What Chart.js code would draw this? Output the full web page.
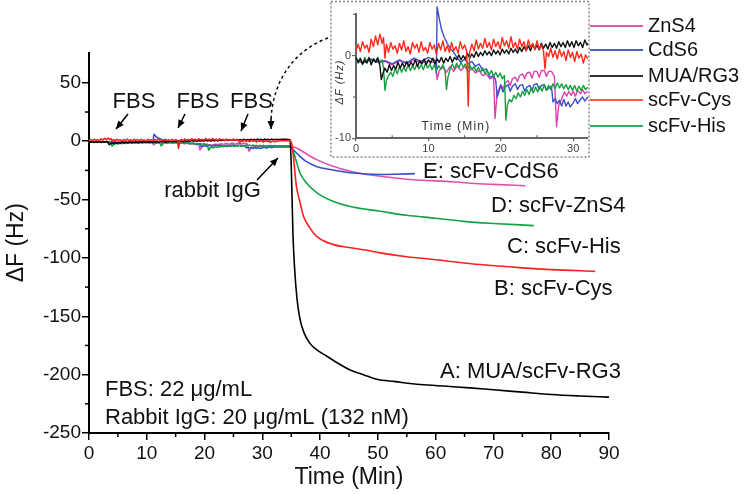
<!DOCTYPE html>
<html><head><meta charset="utf-8">
<script src="https://cdn.jsdelivr.net/npm/chart.js@4.4.1/dist/chart.umd.min.js"></script>
<style>
html,body{margin:0;padding:0;background:#fff;}
#wrap{position:relative;width:750px;height:494px;overflow:hidden;}
#main{position:absolute;left:0;top:0;width:750px;height:494px;}
#inset{position:absolute;left:330px;top:0;width:420px;height:160px;}
</style></head><body>
<div id="wrap"><canvas id="main" width="750" height="494"></canvas><canvas id="inset" width="420" height="160"></canvas></div>
<script>
// ---------- DATA (time in min, ΔF in Hz) ----------
const seriesNames = ['ZnS4','CdS6','MUA/RG3','scFv-Cys','scFv-His'];
const curveLabels = ['A: MUA/scFv-RG3','B: scFv-Cys','C: scFv-His','D: scFv-ZnS4','E: scFv-CdS6'];
const xTicksMain = [0,10,20,30,40,50,60,70,80,90];
const yTicksMain = [50,0,-50,-100,-150,-200,-250];
const xTicksInset = [0,10,20,30];
const yTicksInset = [0,-10];

// baseline (0-32 min) — also shown in the inset
const cysBase = [[0,0.6],[0.3,1.4],[0.6,0.5],[0.9,1.7],[1.2,0.9],[1.5,1.3],[1.8,0.4],[2.1,2.0],[2.4,1.1],[2.7,2.4],[3.0,1.3],[3.3,2.6],[3.6,1.5],[3.8,2.2],[4.0,-0.3],[4.2,1.4],[4.5,0.4],[4.8,1.6],[5.1,0.8],[5.4,1.2],[5.7,0.3],[6.0,1.5],[6.3,0.7],[6.6,1.8],[6.9,0.5],[7.2,1.1],[7.5,0.2],[7.8,1.6],[8.1,0.9],[8.4,1.4],[8.7,0.4],[9.0,1.7],[9.3,0.6],[9.6,1.0],[9.9,0.3],[10.2,1.6],[10.5,0.8],[10.8,1.3],[11.1,0.2],[11.4,1.5],[11.7,0.7],[12.0,1.8],[12.3,0.5],[12.6,1.2],[12.9,0.4],[13.2,1.6],[13.5,0.6],[13.8,1.1],[14.1,0.3],[14.4,1.7],[14.7,0.8],[15.0,1.3],[15.3,0.5],[15.5,-6.1],[15.7,0.4],[16.0,1.4],[16.3,0.6],[16.6,1.9],[16.9,0.8],[17.2,1.5],[17.5,0.9],[17.8,2.1],[18.1,1.0],[18.4,1.6],[18.7,0.7],[19.0,2.0],[19.3,1.1],[19.6,1.7],[19.9,0.8],[20.2,2.2],[20.5,1.2],[20.8,1.8],[21.1,0.9],[21.4,2.3],[21.7,1.0],[22.0,1.6],[22.3,0.8],[22.6,2.0],[22.9,1.1],[23.2,1.7],[23.5,0.6],[23.8,1.9],[24.1,1.0],[24.4,1.5],[24.7,0.7],[25.0,1.8],[25.3,0.8],[25.6,1.3],[25.9,0.5],[26.1,-1.6],[26.3,0.4],[26.6,-0.1],[26.9,0.9],[27.2,-0.2],[27.5,0.6],[27.8,-0.4],[28.1,0.8],[28.4,-0.1],[28.7,0.5],[29.0,-0.6],[29.3,0.7],[29.6,-0.2],[29.9,0.4],[30.2,-0.7],[30.5,0.5],[30.8,-0.3],[31.1,0.2],[31.4,-0.9],[31.7,0.1],[32.0,-0.4]];
const muaBase = [[0,-0.2],[0.3,-0.8],[0.6,-0.3],[0.9,-1.0],[1.2,-0.5],[1.5,-0.9],[1.8,-0.2],[2.1,-1.1],[2.4,-0.4],[2.7,-0.8],[3.0,-0.3],[3.3,-1.2],[3.5,-2.9],[3.7,-2.2],[4.0,-1.5],[4.3,-2.0],[4.6,-1.1],[4.9,-1.8],[5.2,-1.2],[5.5,-1.6],[5.8,-0.8],[6.1,-1.5],[6.4,-0.9],[6.7,-1.4],[7.0,-0.7],[7.3,-1.3],[7.6,-0.8],[7.9,-1.2],[8.2,-0.5],[8.5,-1.3],[8.8,-0.6],[9.1,-1.0],[9.4,-0.4],[9.7,-1.1],[10.0,-0.5],[10.3,-0.9],[10.6,-0.3],[10.9,-1.0],[11.2,-0.4],[11.5,-0.8],[11.8,-0.2],[12.1,-0.9],[12.4,-0.3],[12.7,-0.7],[13.0,-0.1],[13.3,-0.8],[13.6,-0.2],[13.9,-0.5],[14.2,0.1],[14.5,-0.5],[14.8,0.0],[15.1,-0.4],[15.4,0.3],[15.7,-0.3],[16.0,0.2],[16.3,-0.2],[16.6,0.5],[16.9,-0.1],[17.2,0.4],[17.5,0.0],[17.8,0.6],[18.1,0.1],[18.4,0.5],[18.7,0.0],[19.0,0.7],[19.3,0.2],[19.6,0.6],[19.9,0.1],[20.2,0.8],[20.5,0.3],[20.8,0.7],[21.1,0.2],[21.4,0.9],[21.7,0.4],[22.0,0.8],[22.3,0.3],[22.6,1.0],[22.9,0.5],[23.2,1.1],[23.5,0.6],[23.8,1.2],[24.1,0.6],[24.4,1.4],[24.7,0.8],[25.0,1.3],[25.3,0.7],[25.6,1.5],[25.9,0.9],[26.2,1.4],[26.5,0.8],[26.8,1.6],[27.1,1.0],[27.4,1.5],[27.7,0.9],[28.0,1.7],[28.3,1.1],[28.6,1.6],[28.9,1.0],[29.2,1.8],[29.5,1.1],[29.8,1.7],[30.1,1.0],[30.4,1.8],[30.7,1.2],[31.0,1.6],[31.3,1.0],[31.6,1.9],[31.9,1.3],[32,1.5]];
const hisBase = [[0,-0.3],[0.3,-0.9],[0.6,-0.4],[0.9,-1.1],[1.2,-0.2],[1.5,-0.8],[1.8,-0.3],[2.1,-1.0],[2.4,-0.4],[2.7,-0.7],[3.0,-0.2],[3.3,-0.9],[3.6,-0.5],[3.8,-1.5],[4.0,-4.2],[4.2,-3.0],[4.5,-2.4],[4.8,-2.0],[5.1,-2.5],[5.4,-1.5],[5.7,-2.2],[6.0,-1.3],[6.3,-2.0],[6.6,-1.4],[6.9,-1.9],[7.2,-1.1],[7.5,-1.8],[7.8,-1.2],[8.1,-1.7],[8.4,-1.0],[8.7,-1.6],[9.0,-1.1],[9.3,-1.7],[9.6,-0.9],[9.9,-1.5],[10.2,-1.0],[10.5,-1.7],[10.8,-1.1],[11.1,-1.8],[11.4,-1.2],[11.7,-1.6],[12.0,-1.1],[12.3,-1.8],[12.5,-4.1],[12.7,-2.6],[13.0,-1.6],[13.3,-1.0],[13.6,-1.6],[13.9,-0.9],[14.2,-1.5],[14.5,-0.8],[14.8,-1.4],[15.1,-1.0],[15.4,-1.6],[15.7,-1.1],[16.0,-1.7],[16.3,-1.3],[16.6,-1.9],[16.9,-1.4],[17.2,-2.0],[17.5,-1.5],[17.8,-2.2],[18.1,-1.7],[18.4,-2.3],[18.7,-1.8],[19.0,-2.5],[19.3,-2.0],[19.6,-2.6],[19.9,-2.1],[20.2,-2.8],[20.5,-2.4],[20.7,-7.8],[20.9,-6.0],[21.2,-5.3],[21.5,-5.6],[21.8,-4.8],[22.1,-5.2],[22.4,-4.5],[22.7,-5.0],[23.0,-4.3],[23.3,-4.8],[23.6,-4.1],[23.9,-4.7],[24.2,-3.9],[24.5,-4.5],[24.8,-3.8],[25.1,-4.4],[25.4,-3.7],[25.7,-4.3],[26.0,-3.5],[26.3,-4.2],[26.6,-3.6],[26.9,-4.1],[27.2,-3.4],[27.5,-4.0],[27.8,-3.3],[28.1,-3.9],[28.4,-3.4],[28.7,-4.0],[29.0,-3.5],[29.3,-4.1],[29.6,-3.6],[29.9,-4.2],[30.2,-3.6],[30.5,-4.3],[30.8,-3.7],[31.1,-4.2],[31.4,-3.6],[31.7,-4.1],[32,-3.8]];
const cdsBase = [[0,-0.5],[1,-0.8],[2,-0.4],[3,-0.7],[4,-0.6],[5,-1.0],[6,-0.5],[7,-0.9],[8,-0.3],[9,-0.7],[10,-0.2],[11,-0.6],[11.1,-2.1],[11.2,5.9],[11.5,4.5],[11.8,3.2],[12.2,2.2],[12.6,1.5],[13,0.9],[13.5,0.4],[14,-0.3],[14.5,-0.8],[15,-0.4],[15.5,-1.0],[16,-0.7],[16.5,-1.3],[17,-1.0],[17.5,-1.8],[18,-1.6],[18.5,-2.6],[19,-2.4],[19.3,-3.0],[19.5,-5.0],[19.8,-4.2],[20,-3.6],[20.3,-4.4],[20.6,-3.8],[21,-3.5],[21.3,-4.3],[21.6,-3.7],[22,-3.4],[22.3,-4.1],[22.6,-3.6],[23,-3.5],[23.3,-4.3],[23.6,-3.8],[24,-3.6],[24.3,-4.2],[24.6,-3.5],[25,-3.4],[25.3,-4.1],[25.6,-3.6],[26,-3.5],[26.3,-4.2],[26.6,-3.9],[27,-3.7],[27.2,-5.6],[27.5,-5.2],[27.8,-5.8],[28.1,-5.4],[28.4,-6.1],[28.7,-5.3],[29,-6.1],[29.3,-5.6],[29.6,-6.2],[30,-5.7],[30.3,-5.2],[30.6,-5.8],[31,-5.3],[31.3,-5.0],[31.6,-5.5],[32,-5.0]];
const znsBase = [[0,-0.6],[1,-0.9],[2,-0.5],[3,-0.8],[4,-0.7],[5,-1.1],[6,-0.6],[7,-1.0],[8,-0.5],[9,-0.9],[10,-0.6],[11,-0.9],[11.2,-2.9],[11.5,-1.8],[12,-1.4],[12.5,-2.0],[13,-1.3],[13.5,-1.9],[14,-1.2],[14.5,-1.8],[15,-1.3],[15.5,-1.9],[16,-1.5],[16.5,-2.1],[17,-1.8],[17.5,-2.4],[18,-2.2],[18.5,-2.8],[19,-2.6],[19.2,-7.6],[19.5,-4.5],[20,-3.5],[20.3,-4.0],[20.6,-3.3],[21,-3.0],[21.3,-3.6],[21.6,-2.8],[22,-2.6],[22.3,-3.1],[22.6,-2.4],[23,-2.2],[23.3,-2.8],[23.6,-2.1],[24,-2.0],[24.3,-2.7],[24.6,-1.9],[25,-1.9],[25.3,-2.6],[25.6,-1.8],[26,-1.8],[26.3,-2.5],[26.6,-1.9],[27,-1.9],[27.4,-2.5],[27.7,-8.6],[28,-6.0],[28.5,-5.0],[28.8,-4.4],[29.1,-4.9],[29.4,-4.3],[29.7,-4.8],[30,-4.3],[30.3,-4.9],[30.6,-4.2],[31,-4.6],[31.3,-4.1],[31.6,-4.6],[32,-4.3]];

// binding phase (after rabbit IgG injection)
const muaBind = [[33,1.5],[34,1.6],[34.8,1.2],[35.0,-20],[35.3,-80],[35.6,-110],[36.0,-135],[36.5,-152],[37.2,-164],[38.2,-173],[39.5,-179],[41.1,-184],[43,-190],[45.2,-196],[47.5,-200],[49.8,-204],[53,-206],[57.3,-208.5],[62,-210],[65.9,-211.3],[70,-213],[75,-215],[80,-217],[85,-218.3],[90,-219.3]];
const cysBind = [[33,0.5],[34.8,0.5],[35.2,-5],[35.9,-38.7],[36.5,-52],[37.1,-64],[38.2,-74],[39.4,-81.5],[42.3,-88.6],[45,-91],[48.1,-93.5],[50.4,-95.7],[55,-99],[60,-101.5],[67.7,-105.7],[75,-108.5],[80,-110],[87.6,-111.5]];
const hisBind = [[33,-4],[34.8,-4],[35.3,-8],[36.5,-27],[37.5,-35],[39.4,-44],[42,-51],[45.2,-56],[50.4,-60],[55,-63.5],[60,-66],[64.8,-68.7],[70,-70.5],[77,-72.3]];
const cdsBind = [[33,-5],[34.8,-5],[35.5,-8],[36.5,-13],[37.5,-17],[39.4,-21.6],[42,-24.5],[45.2,-27],[50.4,-28.5],[53,-28.3],[56.4,-27.8]];
const znsBind = [[33,-4.5],[34.8,-4.5],[35.5,-5],[36.5,-7.3],[38,-12],[39.4,-15.8],[42,-21],[45.2,-25.8],[48,-28.5],[50.4,-30],[53,-31.5],[56.1,-33],[61.9,-34.4],[66,-36],[70,-37],[75.5,-38.1]];

// ---------- helpers ----------
const FONT = '"Liberation Sans", Arial, Helvetica, sans-serif';
const toXY = arr => arr.map(p => ({x:p[0], y:p[1]}));
function ds(label, base, bind, color, w){
  return {label, data: toXY(bind ? base.concat(bind) : base), borderColor: color, backgroundColor: color,
          borderWidth: w, pointRadius: 0, fill: false, tension: 0, borderJoinStyle:'round',
          cubicInterpolationMode: bind ? 'monotone' : 'default'};
}
function arrow(ctx, x1, y1, x2, y2){
  ctx.save();
  ctx.strokeStyle = '#000'; ctx.fillStyle = '#000'; ctx.lineWidth = 1.5;
  ctx.beginPath(); ctx.moveTo(x1,y1); ctx.lineTo(x2,y2); ctx.stroke();
  const a = Math.atan2(y2-y1, x2-x1), L = 8, W = 3.5;
  ctx.beginPath();
  ctx.moveTo(x2,y2);
  ctx.lineTo(x2 - L*Math.cos(a) + W*Math.sin(a), y2 - L*Math.sin(a) - W*Math.cos(a));
  ctx.lineTo(x2 - L*Math.cos(a) - W*Math.sin(a), y2 - L*Math.sin(a) + W*Math.cos(a));
  ctx.closePath(); ctx.fill();
  ctx.restore();
}

// ---------- main chart ----------
const mainAnnot = {
  id:'mainAnnot',
  afterDraw(chart){
    const ctx = chart.ctx, xs = chart.scales.x, ys = chart.scales.y;
    ctx.save();
    // minor ticks
    ctx.strokeStyle = '#000'; ctx.lineWidth = 1.5;
    for (let v = 5; v < 90; v += 10){
      const px = xs.getPixelForValue(v);
      ctx.beginPath(); ctx.moveTo(px, ys.bottom); ctx.lineTo(px, ys.bottom + 4); ctx.stroke();
    }
    for (let v = -225; v <= 25; v += 50){
      const py = ys.getPixelForValue(v);
      ctx.beginPath(); ctx.moveTo(xs.left, py); ctx.lineTo(xs.left - 4, py); ctx.stroke();
    }
    ctx.fillStyle = '#111';
    ctx.font = '22px ' + FONT;
    ctx.textBaseline = 'middle';
    // FBS labels & arrows
    ctx.textAlign = 'center';
    ctx.fillText('FBS', 134, 102);
    ctx.fillText('FBS', 198, 102);
    ctx.fillText('FBS', 251.5, 102);
    arrow(ctx, 128, 114, 116, 129);
    arrow(ctx, 185, 114, 178, 128);
    arrow(ctx, 248, 114, 241, 131);
    // rabbit IgG
    ctx.fillText('rabbit IgG', 212.5, 191);
    arrow(ctx, 257, 180, 278, 158);
    // dashed curve from inset
    ctx.save();
    ctx.strokeStyle = '#000'; ctx.lineWidth = 1.4; ctx.setLineDash([3,3]);
    ctx.beginPath(); ctx.moveTo(328, 38); ctx.bezierCurveTo(295, 50, 272, 80, 271, 122); ctx.stroke();
    ctx.restore();
    arrow(ctx, 271, 118, 271, 129);
    // curve labels
    ctx.textAlign = 'left';
    ctx.fillText(curveLabels[0], 440, 372);
    ctx.fillText(curveLabels[1], 494, 289);
    ctx.fillText(curveLabels[2], 507, 247);
    ctx.fillText(curveLabels[3], 491, 206);
    ctx.fillText(curveLabels[4], 423, 172);
    // concentrations
    ctx.fillText('FBS: 22 \u03bcg/mL', 105, 390);
    ctx.fillText('Rabbit IgG: 20 \u03bcg/mL (132 nM)', 105, 418);
    ctx.restore();
  }
};

new Chart(document.getElementById('main'), {
  type: 'line',
  data: { datasets: [
    ds('scFv-Cys', cysBase, cysBind, '#ff1f1f', 1.6),
    ds('MUA/RG3', muaBase, muaBind, '#000000', 1.6),
    ds('scFv-His', hisBase, hisBind, '#12a444', 1.6),
    ds('CdS6', cdsBase, cdsBind, '#3552c4', 1.6),
    ds('ZnS4', znsBase, znsBind, '#e44fae', 1.6)
  ]},
  options: {
    responsive: false, animation: false, events: [],
    layout: { padding: { top: 52.5, right: 141, left: 0, bottom: 0 } },
    plugins: { legend: { display: false }, tooltip: { enabled: false } },
    scales: {
      x: {
        type: 'linear', min: 0, max: 90,
        afterBuildTicks: s => { s.ticks = xTicksMain.map(v => ({value: v})); },
        ticks: { font: { family: FONT, size: 19 }, color: '#111', padding: 2, maxRotation: 0 },
        grid: { drawOnChartArea: false, color: '#000', lineWidth: 1.5, tickLength: 7 },
        border: { color: '#000', width: 2 },
        title: { display: true, text: 'Time (Min)', font: { family: FONT, size: 23 }, color: '#111', padding: { top: 0, bottom: 3 } },
        afterFit: s => { s.height = 61; }
      },
      y: {
        type: 'linear', min: -250, max: 76,
        afterBuildTicks: s => { s.ticks = yTicksMain.map(v => ({value: v})); },
        ticks: { font: { family: FONT, size: 19 }, color: '#111', padding: 1 },
        grid: { drawOnChartArea: false, color: '#000', lineWidth: 1.5, tickLength: 7 },
        border: { color: '#000', width: 2 },
        title: { display: true, text: '\u0394F (Hz)', font: { family: FONT, size: 23 }, color: '#111', padding: { top: 3, bottom: 0 } },
        afterFit: s => { s.width = 89; }
      }
    }
  },
  plugins: [mainAnnot]
});

// ---------- inset chart ----------
const legendColors = ['#e45aa8','#4a5fc0','#333333','#ff5a3a','#2db35a'];
const legendY = [26, 50, 76, 100, 126];
const insetAnnot = {
  id:'insetAnnot',
  afterDraw(chart){
    const ctx = chart.ctx, xs = chart.scales.x, ys = chart.scales.y;
    ctx.save();
    // dotted frame
    ctx.strokeStyle = '#888'; ctx.lineWidth = 1.5; ctx.setLineDash([2,2]);
    ctx.strokeRect(1, 1.5, 258, 155.5);
    ctx.setLineDash([]);
    // minor ticks
    ctx.strokeStyle = '#666'; ctx.lineWidth = 1.2;
    [5,15,25].forEach(v => { const px = xs.getPixelForValue(v); ctx.beginPath(); ctx.moveTo(px, ys.bottom); ctx.lineTo(px, ys.bottom - 3); ctx.stroke(); });
    [-5,5].forEach(v => { const py = ys.getPixelForValue(v); ctx.beginPath(); ctx.moveTo(xs.left, py); ctx.lineTo(xs.left - 3, py); ctx.stroke(); });
    // titles
    ctx.fillStyle = '#333';
    ctx.font = '12px ' + FONT;
    ctx.textAlign = 'center'; ctx.textBaseline = 'middle';
    try { ctx.letterSpacing = '1.2px'; } catch(e) {}
    ctx.fillText('Time (Min)', 126, 127);
    try { ctx.letterSpacing = '1px'; } catch(e) {}
    ctx.save();
    ctx.translate(10, 82); ctx.rotate(-Math.PI/2);
    ctx.font = 'italic 11px ' + FONT;
    ctx.fillText('\u0394F (Hz)', 0, 0);
    ctx.restore();
    try { ctx.letterSpacing = '0px'; } catch(e) {}
    // legend
    ctx.font = '20px ' + FONT; ctx.textAlign = 'left'; ctx.fillStyle = '#111';
    seriesNames.forEach((n, i) => {
      ctx.strokeStyle = legendColors[i]; ctx.lineWidth = 2;
      ctx.beginPath(); ctx.moveTo(260, legendY[i]); ctx.lineTo(313, legendY[i]); ctx.stroke();
      ctx.fillText(n, 318, legendY[i]);
    });
    ctx.restore();
  }
};

new Chart(document.getElementById('inset'), {
  type: 'line',
  data: { datasets: [
    Object.assign(ds('scFv-Cys', cysBase, null, '#ff2a1a', 1.4), {clip: false}),
    Object.assign(ds('MUA/RG3', muaBase, null, '#111111', 1.4), {clip: false}),
    Object.assign(ds('scFv-His', hisBase, null, '#14a040', 1.4), {clip: false}),
    Object.assign(ds('CdS6', cdsBase, null, '#3a4fc8', 1.4), {clip: false}),
    Object.assign(ds('ZnS4', znsBase, null, '#e040b0', 1.4), {clip: false})
  ]},
  options: {
    responsive: false, animation: false, events: [],
    layout: { padding: { top: 14.4, right: 162.3, left: 0, bottom: 0 } },
    plugins: { legend: { display: false }, tooltip: { enabled: false } },
    scales: {
      x: {
        type: 'linear', min: 0, max: 32,
        afterBuildTicks: s => { s.ticks = xTicksInset.map(v => ({value: v})); },
        ticks: { font: { family: FONT, size: 11 }, color: '#444', padding: 1, maxRotation: 0 },
        grid: { drawOnChartArea: false, color: '#666', lineWidth: 1.2, tickLength: 3 },
        border: { color: '#666', width: 2 },
        afterFit: s => { s.height = 21.7; }
      },
      y: {
        type: 'linear', min: -10, max: 5,
        afterBuildTicks: s => { s.ticks = yTicksInset.map(v => ({value: v})); },
        ticks: { font: { family: FONT, size: 11 }, color: '#444', padding: 1 },
        grid: { drawOnChartArea: false, color: '#666', lineWidth: 1.2, tickLength: 4 },
        border: { color: '#666', width: 2 },
        afterFit: s => { s.width = 26; }
      }
    }
  },
  plugins: [insetAnnot]
});
</script></body></html>
